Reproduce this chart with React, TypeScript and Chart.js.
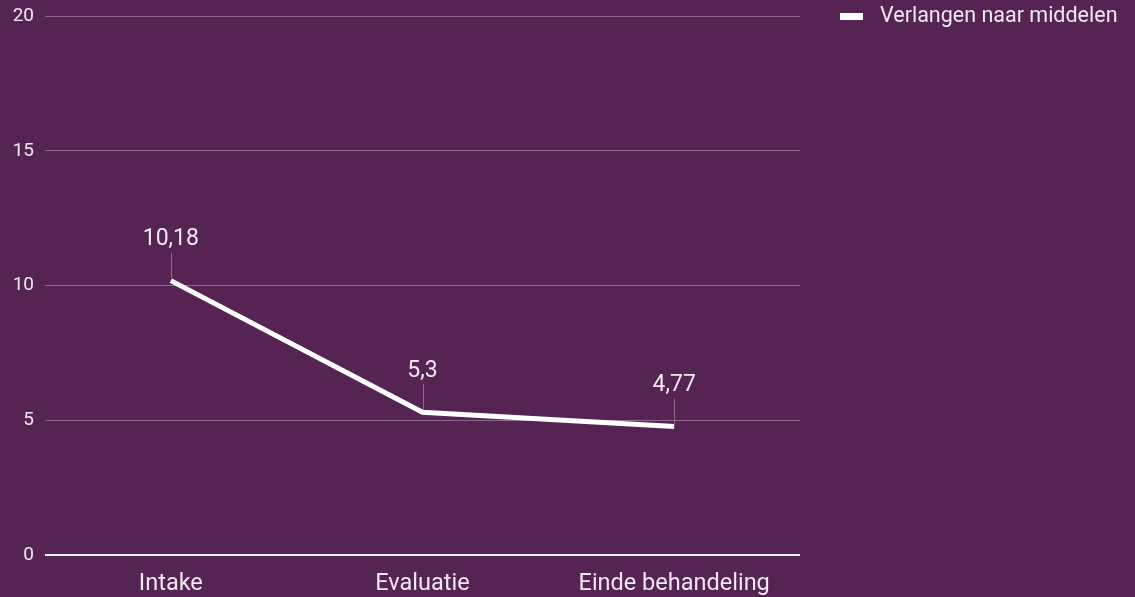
import React, { useEffect, useRef } from "react";
import { Chart, registerables } from "chart.js";

Chart.register(...registerables);

const categories = ["Intake", "Evaluatie", "Einde behandeling"];
const seriesName = "Verlangen naar middelen";
const seriesValues = [10.18, 5.3, 4.77];
const valueLabels = ["10,18", "5,3", "4,77"];
const yTicks = [0, 5, 10, 15, 20];

const BG = "#562452";
const GRID = "#93668f";
const TEXT = "#f2e8f1";
const FONT = "Roboto, 'Noto Sans', sans-serif";

export default function App() {
  const ref = useRef<HTMLCanvasElement | null>(null);

  useEffect(() => {
    document.body.style.margin = "0";
    document.body.style.background = BG;
    const canvas = ref.current;
    if (!canvas) return;

    const labelPlugin = {
      id: "valueLabels",
      afterDatasetsDraw(chart: any) {
        const meta = chart.getDatasetMeta(0);
        const ctx = chart.ctx;
        ctx.save();
        meta.data.forEach((pt: any, i: number) => {
          const x = Math.round(pt.x) + 0.5;
          const y = pt.y;
          ctx.strokeStyle = GRID;
          ctx.lineWidth = 1;
          ctx.beginPath();
          ctx.moveTo(x, y - 28);
          ctx.lineTo(x, y - 2);
          ctx.stroke();
          ctx.fillStyle = TEXT;
          ctx.font = `23px ${FONT}`;
          ctx.textAlign = "center";
          ctx.textBaseline = "middle";
          ctx.fillText(valueLabels[i], pt.x, y - 41);
        });
        ctx.restore();
      },
    };

    const legendPlugin = {
      id: "customLegend",
      afterDraw(chart: any) {
        const ctx = chart.ctx;
        ctx.save();
        ctx.fillStyle = "#ffffff";
        ctx.fillRect(840, 13, 23, 7);
        ctx.fillStyle = TEXT;
        ctx.font = `21.5px ${FONT}`;
        ctx.textAlign = "left";
        ctx.textBaseline = "middle";
        ctx.fillText(seriesName, 880, 17);
        ctx.restore();
      },
    };

    const chart = new Chart(canvas, {
      type: "line",
      data: {
        labels: categories,
        datasets: [
          {
            label: seriesName,
            data: seriesValues,
            borderColor: "#ffffff",
            backgroundColor: "#ffffff",
            borderWidth: 5,
            pointRadius: 0,
            pointHoverRadius: 0,
            tension: 0,
            borderCapStyle: "butt",
          },
        ],
      },
      options: {
        responsive: false,
        animation: false,
        layout: { padding: { top: 16, right: 335, left: 0, bottom: 0 } },
        plugins: {
          legend: { display: false },
          tooltip: { enabled: false },
        },
        scales: {
          x: {
            offset: true,
            grid: { display: false, drawTicks: false },
            border: { display: false },
            ticks: {
              color: TEXT,
              font: { family: FONT, size: 23.5 },
              padding: 15,
            },
            afterFit(scale: any) {
              scale.height = 42;
              scale.paddingLeft = 0;
              scale.paddingRight = 0;
            },
          },
          y: {
            min: 0,
            max: 20,
            afterBuildTicks(scale: any) {
              scale.ticks = yTicks.map((v) => ({ value: v }));
            },
            grid: {
              drawTicks: false,
              color: (c: any) => (c.tick && c.tick.value === 0 ? "#f4eef3" : GRID),
              lineWidth: (c: any) => (c.tick && c.tick.value === 0 ? 2 : 1),
            },
            border: { display: false },
            ticks: {
              color: TEXT,
              font: { family: FONT, size: 19 },
              padding: 11,
            },
            afterFit(scale: any) {
              scale.width = 45;
              scale.paddingTop = 0;
              scale.paddingBottom = 0;
            },
          },
        },
      },
      plugins: [labelPlugin, legendPlugin],
    });

    return () => chart.destroy();
  }, []);

  return (
    <div style={{ position: "fixed", left: 0, top: 0, width: 1135, height: 597, background: BG }}>
      <canvas ref={ref} width={1135} height={597} style={{ display: "block" }} />
    </div>
  );
}
